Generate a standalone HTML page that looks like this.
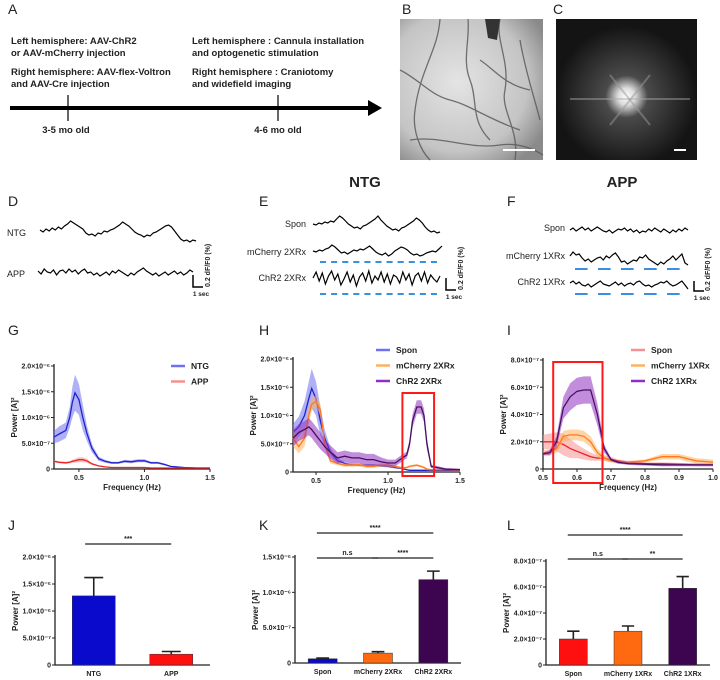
<!DOCTYPE html>
<html><head><meta charset="utf-8">
<style>
html,body{margin:0;padding:0;background:#fff;}
svg{display:block;font-family:"Liberation Sans",sans-serif;}
.pl{font-size:14px;fill:#222;}
.ta{font-size:9.5px;font-weight:bold;fill:#222;}
.tk{font-size:7px;fill:#222;font-weight:bold;}
.ax{font-size:8px;fill:#222;font-weight:bold;}
.lg{font-size:8.5px;fill:#222;font-weight:bold;}
.tr{font-size:9px;fill:#222;}
</style></head>
<body>
<svg id="fig" width="720" height="680" viewBox="0 0 720 680">
<defs>
<radialGradient id="gb" cx="0.4" cy="0.45" r="0.7"><stop offset="0" stop-color="#e4e4e4"/><stop offset="0.7" stop-color="#c4c4c4"/><stop offset="1" stop-color="#8a8a8a"/></radialGradient>
<radialGradient id="gc" cx="0.5" cy="0.55" r="0.5"><stop offset="0" stop-color="#ffffff"/><stop offset="0.12" stop-color="#dcdcdc"/><stop offset="0.3" stop-color="#4a4a4a"/><stop offset="1" stop-color="#141414"/></radialGradient>
</defs>
<!-- Panel A -->
<g>
<text class="pl" x="8" y="14">A</text>
<text class="ta" x="11" y="44">Left hemisphere: AAV-ChR2</text>
<text class="ta" x="11" y="56">or AAV-mCherry injection</text>
<text class="ta" x="11" y="75">Right hemisphere: AAV-flex-Voltron</text>
<text class="ta" x="11" y="87">and AAV-Cre injection</text>
<text class="ta" x="192" y="44">Left hemisphere : Cannula installation</text>
<text class="ta" x="192" y="56">and optogenetic stimulation</text>
<text class="ta" x="192" y="75">Right hemisphere : Craniotomy</text>
<text class="ta" x="192" y="87">and widefield imaging</text>
<line x1="10" y1="108" x2="372" y2="108" stroke="#000" stroke-width="4"/>
<polygon points="368,100 382,108 368,116" fill="#000"/>
<line x1="68" y1="95" x2="68" y2="121" stroke="#000" stroke-width="1.2"/>
<line x1="278" y1="95" x2="278" y2="121" stroke="#000" stroke-width="1.2"/>
<text class="ta" x="66" y="133" text-anchor="middle">3-5 mo old</text>
<text class="ta" x="278" y="133" text-anchor="middle">4-6 mo old</text>
</g>
<!-- Panel B -->
<g>
<text class="pl" x="402" y="14">B</text>
<rect x="400" y="19" width="143" height="141" fill="url(#gb)"/>
<g stroke="#555" fill="none" stroke-width="1.3" opacity="0.8">
<path d="M468 19 C470 40 462 60 470 80 C478 100 470 120 490 140"/>
<path d="M500 19 C495 40 510 60 505 90 C500 110 520 130 515 160"/>
<path d="M400 70 C420 80 430 95 450 100 C470 105 490 120 520 130"/>
<path d="M440 19 C438 50 420 70 415 110 C412 130 420 150 430 160"/>
<path d="M480 60 C495 70 505 85 530 90"/>
<path d="M410 140 C440 135 470 150 500 145 C520 142 535 150 543 155"/>
<path d="M520 40 C525 70 535 100 540 120"/>
</g>
<path d="M485 19 L500 19 L497 40 L488 38 Z" fill="#333"/>
<line x1="503" y1="150" x2="535" y2="150" stroke="#fff" stroke-width="2"/>
</g>
<!-- Panel C -->
<g>
<text class="pl" x="553" y="14">C</text>
<rect x="556" y="19" width="141" height="141" fill="url(#gc)"/>
<line x1="570" y1="99" x2="690" y2="99" stroke="#aaa" stroke-width="1.5" opacity="0.6"/>
<line x1="610" y1="75" x2="650" y2="125" stroke="#999" stroke-width="2" opacity="0.5"/>
<line x1="650" y1="75" x2="610" y2="125" stroke="#999" stroke-width="2" opacity="0.5"/>
<line x1="674" y1="150" x2="686" y2="150" stroke="#fff" stroke-width="2"/>
</g>
<text x="365" y="187" text-anchor="middle" font-size="15" font-weight="bold" fill="#222">NTG</text>
<text x="622" y="187" text-anchor="middle" font-size="15" font-weight="bold" fill="#222">APP</text>
<text class="pl" x="8" y="206">D</text>
<text class="pl" x="259" y="206">E</text>
<text class="pl" x="507" y="206">F</text>
<text class="tr" x="7" y="236" font-size="11">NTG</text>
<text class="tr" x="7" y="277" font-size="11">APP</text>
<text class="tr" x="306" y="227" text-anchor="end">Spon</text>
<text class="tr" x="306" y="255" text-anchor="end">mCherry 2XRx</text>
<text class="tr" x="306" y="281" text-anchor="end">ChR2 2XRx</text>
<text class="tr" x="565" y="231" text-anchor="end" font-size="8">Spon</text>
<text class="tr" x="565" y="259" text-anchor="end" font-size="8">mCherry 1XRx</text>
<text class="tr" x="565" y="285" text-anchor="end" font-size="8">ChR2 1XRx</text>
<g id="traces"></g>
<g id="charts"></g>
</svg>
<script>
// ---- trace data (pixel offsets, upward positive) ----
const trNTG=[0,-2,1,-1,2,0,3,1,4,6,9,7,5,3,1,-3,-5,-4,-6,-3,-4,-1,-2,0,1,3,5,8,6,4,1,-2,-4,-5,-7,-5,-6,-3,-2,0,2,4,5,3,-1,-5,-9,-11,-10,-12,-10,-11];
const trAPP=[1,-2,3,0,-1,2,-3,1,2,-1,3,0,2,-2,1,3,-1,0,-3,-1,-4,-2,0,-3,1,-1,2,0,-2,-4,-1,-3,0,2,4,1,-1,-3,-1,-4,-2,0,-3,-1,1,-2,0,-3,-1,2,0];
const trESpon=[0,-1,1,0,2,1,3,2,5,8,6,3,0,-2,-4,-3,-5,-2,-1,1,3,5,8,4,1,-2,-4,-6,-5,-7,-4,-3,-1,1,3,6,4,1,-3,-6,-8,-7,-9,-8];
const trEMch=[0,-1,1,0,2,3,6,4,1,-2,-1,-3,-1,1,0,2,1,3,5,2,-1,-3,-4,-2,-5,-3,0,2,4,3,1,-2,-4,-3,-5,-4,-2,-1,0,-1,2,5];
const trEChr=[0,6,-3,5,-6,2,7,-2,4,-7,-1,6,-4,3,-8,1,5,-3,7,-5,2,-2,6,-4,4,-6,3,1,-5,6,-2,4,-7,2,5,-3,6,-5,3,-1,-4,2];
const trFSpon=[0,2,-1,1,3,0,2,-1,1,3,1,-1,-2,0,-3,-1,1,0,2,-1,1,-2,0,-3,-1,-2,1,-1,2,0,-2,1,-1,-3,0,-2,1,-1,2,0];
const trFMch=[2,6,3,4,0,-3,-1,-4,-2,0,1,-2,2,0,3,5,1,-4,-3,-6,-4,-2,-3,1,0,3,-1,-3,-5,-7,-4,-6,-3,-1,2,-2,1,4,-5,-7];
const trFChr=[1,3,0,2,-1,-2,0,-3,-1,1,3,0,-1,-2,0,2,-1,1,-2,0,1,-1,2,3,0,-2,-1,-3,-1,0,2,1,3,0,-2,-1,1,3,-1,-5];
const NS='http://www.w3.org/2000/svg';
function mk(parent,tag,attrs,txt){const e=document.createElementNS(NS,tag);for(const k in attrs)e.setAttribute(k,attrs[k]);if(txt!==undefined)e.textContent=txt;parent.appendChild(e);return e;}
const TR=document.getElementById('traces');
function trace(arr,x0,x1,yc,name){
  const pts=arr.map((v,i)=>(x0+(x1-x0)*i/(arr.length-1)).toFixed(1)+','+(yc-v).toFixed(1)).join(' ');
  const e=mk(TR,'polyline',{points:pts,fill:'none',stroke:'#000','stroke-width':1.2});
  
  
}
trace(trNTG,40,196,230,'trace-d-ntg');
trace(trAPP,38,193,272,'trace-d-app');
trace(trESpon,313,440,224,'trace-e-spon');
trace(trEMch,313,442,251,'trace-e-mcherry');
trace(trEChr,313,440,278,'trace-e-chr2');
trace(trFSpon,570,688,230,'trace-f-spon');
trace(trFMch,570,688,258,'trace-f-mcherry');
trace(trFChr,570,688,284,'trace-f-chr2');
function dashes(x0,x1,y,n,name){
  const w=(x1-x0)/n;
  for(let i=0;i<n;i++){
    const d=mk(TR,'line',{x1:x0+i*w,x2:x0+i*w+w*0.55,y1:y,y2:y,stroke:'#3a8fe0','stroke-width':2});
    
    
  }
}
dashes(320,442,262,11,'stim-dash-e-mcherry');
dashes(320,442,294,11,'stim-dash-e-chr2');
dashes(575,690,269,5,'stim-dash-f-mcherry');
dashes(575,690,294,5,'stim-dash-f-chr2');
function scalebar(x,yb,h,txtX,name){
  const p=mk(TR,'polyline',{points:`${x},${yb-h} ${x},${yb} ${x+10},${yb}`,fill:'none',stroke:'#000','stroke-width':1.5});
  
  
  const t=mk(TR,'text',{x:x+8,y:yb+9,'font-size':6.5,'font-weight':'bold','text-anchor':'middle',fill:'#222'},'1 sec');
  
  
  const v=mk(TR,'text',{x:0,y:0,'font-size':7,'font-weight':'bold',fill:'#222',transform:`translate(${txtX},${yb}) rotate(-90)`},'0.2 dF/F0 (%)');
  
  
}
scalebar(193,287,12,210,'scale-bar-d');
scalebar(446,290,12,463,'scale-bar-e');
scalebar(694,291,10,710,'scale-bar-f');

// ---- spectra data (units of 1e-7 A^2) ----
const gFreq=[0.31,0.35,0.4,0.43,0.45,0.47,0.5,0.53,0.56,0.6,0.65,0.7,0.75,0.8,0.85,0.9,0.95,1.0,1.05,1.1,1.15,1.2,1.3,1.4,1.5];
const gNTG=[6.2,6.8,7.5,10,13,14.8,13.5,10,7,4,2,1.5,1.2,1.2,1.5,1.4,1.6,1.6,1.2,1.2,0.9,0.5,0.3,0.2,0.2];
const gNTGerr=[1.2,1.5,1.5,2,3,3.5,3,2.5,1.5,0.8,0.4,0.3,0.2,0.2,0.3,0.3,0.3,0.3,0.2,0.2,0.2,0.1,0.1,0.1,0.1];
const gAPP=[1.5,1.3,1.2,1.3,1.5,1.6,1.8,1.8,1.6,1.0,0.6,0.4,0.3,0.3,0.3,0.3,0.3,0.3,0.2,0.2,0.2,0.2,0.2,0.2,0.2];
const gAPPerr=[0.2,0.2,0.2,0.2,0.3,0.4,0.5,0.5,0.4,0.2,0.1,0.1,0.1,0.1,0.1,0.1,0.1,0.1,0.1,0.1,0.1,0.1,0.1,0.1,0.1];
const hFreq=[0.34,0.38,0.42,0.45,0.47,0.5,0.53,0.56,0.6,0.65,0.7,0.75,0.8,0.85,0.9,0.95,1.0,1.05,1.1,1.13,1.15,1.17,1.2,1.23,1.25,1.27,1.3,1.4,1.5];
const hSpon=[7,8,10,13,14.8,13,9,6,3.5,2,1.5,1.3,1.2,1.2,1.2,1.1,1.0,0.8,0.6,0.4,0.3,0.3,0.3,0.3,0.3,0.3,0.3,0.3,0.3];
const hSponErr=[1.5,1.8,2.5,3,3.5,3,2.5,1.5,0.8,0.4,0.3,0.2,0.2,0.2,0.2,0.2,0.2,0.2,0.1,0.1,0.1,0.1,0.1,0.1,0.1,0.1,0.1,0.1,0.1];
const hMch=[6,4.5,6,10,12,12.5,11,5,2,1.5,1.2,1.2,1.3,1.0,1.0,1.2,1.2,1.0,0.7,0.8,1.0,1.1,1.2,1.0,0.8,0.5,0.4,0.4,0.3];
const hMchErr=[1.5,1.2,1.5,1.5,1.2,1,1,1,0.5,0.3,0.3,0.3,0.3,0.3,0.3,0.3,0.3,0.2,0.2,0.2,0.2,0.2,0.2,0.2,0.2,0.2,0.1,0.1,0.1];
const hChr=[6,7,7.5,8,7.5,6.5,5.5,4.5,3.5,2.5,2.8,2.5,2.5,2.2,2.2,1.8,1.6,1.6,2.5,3,5,9,11.5,11.5,10,5,1.0,0.5,0.4];
const hChrErr=[1.5,1.5,1.5,1.5,1.5,1.5,1.5,1.2,1.2,1,1,1,1,1,1,0.8,0.6,0.6,0.6,0.6,0.8,1.2,1.2,1.2,1.2,1,0.3,0.2,0.2];
const iFreq=[0.5,0.52,0.54,0.56,0.58,0.6,0.62,0.64,0.66,0.68,0.7,0.72,0.75,0.8,0.85,0.9,0.95,1.0];
const iSpon=[2.0,2.0,2.0,1.8,1.5,1.3,1.1,0.9,0.8,0.8,0.7,0.6,0.5,0.4,0.4,0.35,0.3,0.3];
const iSponErr=[0.5,0.6,0.7,0.8,0.7,0.5,0.4,0.3,0.2,0.2,0.2,0.1,0.1,0.1,0.1,0.1,0.1,0.1];
const iMch=[1.2,1.2,1.5,2.4,2.5,2.5,2.4,2.0,1.2,0.8,0.6,0.5,0.5,0.6,0.9,0.9,0.6,0.5];
const iMchErr=[0.2,0.2,0.3,0.4,0.4,0.4,0.4,0.4,0.3,0.2,0.1,0.1,0.1,0.1,0.2,0.2,0.2,0.2];
const iChr=[1.1,1.2,2.0,4.5,5.3,5.7,5.8,5.8,4.0,1.5,0.7,0.5,0.4,0.35,0.3,0.3,0.3,0.3];
const iChrErr=[0.1,0.2,0.4,0.8,1.0,1.0,1.0,1.0,0.8,0.3,0.1,0.1,0.1,0.1,0.1,0.1,0.1,0.1];
// ---- bar data (units of 1e-7) ----
const jCats=['NTG','APP'];const jVals=[12.8,2.0];const jErr=[16.2,2.5];
const kCats=['Spon','mCherry 2XRx','ChR2 2XRx'];const kVals=[0.6,1.4,11.8];const kErr=[0.7,1.6,13.0];
const lCats=['Spon','mCherry 1XRx','ChR2 1XRx'];const lVals=[2.0,2.6,5.9];const lErr=[2.6,3.0,6.8];
const gTicksX=[0.5,1.0,1.5];const gTicksY=[0,5,10,15,20];
const iTicksX=[0.5,0.6,0.7,0.8,0.9,1.0];const iTicksY=[0,2,4,6,8];
const jTicksY=[0,5,10,15,20];const kTicksY=[0,5,10,15];const lTicksY=[0,2,4,6,8];

const CH=document.getElementById('charts');
function ylab(v){ if(v===0) return '0'; if(v>=10) return (v/10).toFixed(1)+'×10⁻⁶'; return v.toFixed(1)+'×10⁻⁷';}
function axes(g,L,R,T,B,yTicks,ymax,yTop,name){
  const ys=v=>B-(B-yTop)*v/ymax;
  const a=mk(g,'polyline',{points:`${L},${yTop-2} ${L},${B} ${R},${B}`,fill:'none',stroke:'#222','stroke-width':1.3});
  
  
  yTicks.forEach(v=>{
    const y=ys(v);
    const t=mk(g,'line',{x1:L-3,x2:L,y1:y,y2:y,stroke:'#222'});
    
    
    const tx=mk(g,'text',{x:L-4,y:y+2.5,'text-anchor':'end',class:'tk'},ylab(v));
    
    
  });
  const yt=mk(g,'text',{class:'ax',transform:`translate(${L-37},${(yTop+B)/2}) rotate(-90)`,'text-anchor':'middle'},'Power [A]²');
  
  
  return ys;
}
function spectrum(cfg){
  const g=mk(CH,'g',{});
  
  
  const xs=f=>cfg.L+(cfg.R-cfg.L)*(f-cfg.x0)/(cfg.x1-cfg.x0);
  const ys=axes(g,cfg.L,cfg.R,0,cfg.B,cfg.yTicks,cfg.ymax,cfg.yTop,cfg.name);
  cfg.xTicks.forEach(f=>{
    const x=xs(f);
    const t=mk(g,'line',{x1:x,x2:x,y1:cfg.B,y2:cfg.B+3,stroke:'#222'});
    
    
    const tx=mk(g,'text',{x:x,y:cfg.B+11,'text-anchor':'middle',class:'tk','font-size':8},f.toFixed(1));
    
    
  });
  const xt=mk(g,'text',{x:(cfg.L+cfg.R)/2,y:cfg.B+21,'text-anchor':'middle',class:'ax'},'Frequency (Hz)');
  
  
  cfg.series.forEach(s=>{
    const up=cfg.freq.map((f,i)=>xs(f).toFixed(1)+','+ys(s.v[i]+s.e[i]).toFixed(1));
    const dn=cfg.freq.map((f,i)=>xs(f).toFixed(1)+','+ys(Math.max(0,s.v[i]-s.e[i])).toFixed(1)).reverse();
    const band=mk(g,'polygon',{points:up.concat(dn).join(' '),fill:s.fill,opacity:0.55});
    
    
    const ln=mk(g,'polyline',{points:cfg.freq.map((f,i)=>xs(f).toFixed(1)+','+ys(s.v[i]).toFixed(1)).join(' '),fill:'none',stroke:s.line,'stroke-width':1.3});
    
    
  });
  cfg.series.forEach((s,i)=>{
    const y=cfg.legY+i*15.5;
    const l=mk(g,'line',{x1:cfg.legX,x2:cfg.legX+14,y1:y,y2:y,stroke:s.fill,'stroke-width':2.5});
    
    
    const t=mk(g,'text',{x:cfg.legX+20,y:y+3,class:'lg'},s.label);
    
    
  });
  if(cfg.box){
    const b=mk(g,'rect',{x:xs(cfg.box[0]),y:cfg.box[2],width:xs(cfg.box[1])-xs(cfg.box[0]),height:cfg.box[3]-cfg.box[2],fill:'none',stroke:'#ff1a1a','stroke-width':2});
    
    
  }
}
const BLUE='#2222cc',BLUEF='#7070f0',RED='#ee2222',REDF='#f59090',OR='#ff7a1a',ORF='#ffb060',PUR='#4a1060',PURF='#9030c0';
spectrum({name:'chart-g',L:54,R:210,B:469,yTop:366,ymax:20,x0:0.31,x1:1.5,freq:gFreq,xTicks:gTicksX,yTicks:gTicksY,legX:171,legY:366,
  series:[{key:'ntg',label:'NTG',v:gNTG,e:gNTGerr,line:BLUE,fill:BLUEF},{key:'app',label:'APP',v:gAPP,e:gAPPerr,line:RED,fill:REDF}]});
spectrum({name:'chart-h',L:293,R:460,B:472,yTop:359,ymax:20,x0:0.34,x1:1.5,freq:hFreq,xTicks:gTicksX,yTicks:gTicksY,legX:376,legY:350,box:[1.1,1.32,393,476],
  series:[{key:'h-spon',label:'Spon',v:hSpon,e:hSponErr,line:BLUE,fill:BLUEF},{key:'h-mcherry',label:'mCherry 2XRx',v:hMch,e:hMchErr,line:OR,fill:ORF},{key:'h-chr2',label:'ChR2 2XRx',v:hChr,e:hChrErr,line:PUR,fill:PURF}]});
spectrum({name:'chart-i',L:543,R:713,B:469,yTop:360,ymax:8,x0:0.5,x1:1.0,freq:iFreq,xTicks:iTicksX,yTicks:iTicksY,legX:631,legY:350,box:[0.53,0.675,362,483],
  series:[{key:'i-spon',label:'Spon',v:iSpon,e:iSponErr,line:RED,fill:REDF},{key:'i-mcherry',label:'mCherry 1XRx',v:iMch,e:iMchErr,line:OR,fill:ORF},{key:'i-chr2',label:'ChR2 1XRx',v:iChr,e:iChrErr,line:PUR,fill:PURF}]});

function bars(cfg){
  const g=mk(CH,'g',{});
  
  
  const ys=axes(g,cfg.L,cfg.R,0,cfg.B,cfg.yTicks,cfg.ymax,cfg.yTop,cfg.name);
  const n=cfg.cats.length, slot=(cfg.R-cfg.L)/n;
  cfg.cats.forEach((c,i)=>{
    const cx=cfg.L+slot*(i+0.5), w=cfg.bw;
    const r=mk(g,'rect',{x:cx-w/2,y:ys(cfg.vals[i]),width:w,height:cfg.B-ys(cfg.vals[i]),fill:cfg.colors[i],stroke:'#333','stroke-width':0.5});
    
    
    const e=mk(g,'path',{d:`M${cx},${ys(cfg.vals[i])} V${ys(cfg.err[i])} M${cx-w*0.22},${ys(cfg.err[i])} H${cx+w*0.22}`,stroke:'#222','stroke-width':1.6,fill:'none'});
    
    
    const t=mk(g,'text',{x:cx,y:cfg.B+11,'text-anchor':'middle',class:'tk','font-size':cfg.fs},c);
    
    
  });
  cfg.sig.forEach(s=>{
    const x1=cfg.L+slot*(s[0]+0.5)-cfg.bw*0.2, x2=cfg.L+slot*(s[1]+0.5)+cfg.bw*0.2*(s[1]===n-1?0:0);
    const l=mk(g,'line',{x1:x1,x2:x2,y1:s[2],y2:s[2],stroke:'#222','stroke-width':1.2});
    
    
    const t=mk(g,'text',{x:(x1+x2)/2,y:s[2]-3,'text-anchor':'middle',class:'tk','font-size':8},s[3]);
    
    
  });
}
bars({name:'chart-j',L:55,R:210,B:665,yTop:557,ymax:20,cats:jCats,vals:jVals,err:jErr,yTicks:jTicksY,bw:43,fs:8,colors:['#0a0acc','#ff1010'],sig:[[0,1,544,'***']]});
bars({name:'chart-k',L:295,R:461,B:663,yTop:557,ymax:15,cats:kCats,vals:kVals,err:kErr,yTicks:kTicksY,bw:29,fs:7,colors:['#0a0acc','#ff6a10','#3d0550'],sig:[[0,2,533,'****'],[0,1,558,'n.s'],[1,2,558,'****']]});
bars({name:'chart-l',L:546,R:710,B:665,yTop:561,ymax:8,cats:lCats,vals:lVals,err:lErr,yTicks:lTicksY,bw:28,fs:7,colors:['#ff1010','#ff6a10','#3d0550'],sig:[[0,2,535,'****'],[0,1,559,'n.s'],[1,2,559,'**']]});
</script>
<svg width="0" height="0" style="position:absolute"></svg>
<div style="position:absolute;left:0;top:0;pointer-events:none">
<svg width="720" height="680" style="font-family:'Liberation Sans',sans-serif">
<text x="8" y="335" font-size="14" fill="#222">G</text>
<text x="259" y="335" font-size="14" fill="#222">H</text>
<text x="507" y="335" font-size="14" fill="#222">I</text>
<text x="8" y="530" font-size="14" fill="#222">J</text>
<text x="259" y="530" font-size="14" fill="#222">K</text>
<text x="507" y="530" font-size="14" fill="#222">L</text>
</svg></div>
</body></html>
